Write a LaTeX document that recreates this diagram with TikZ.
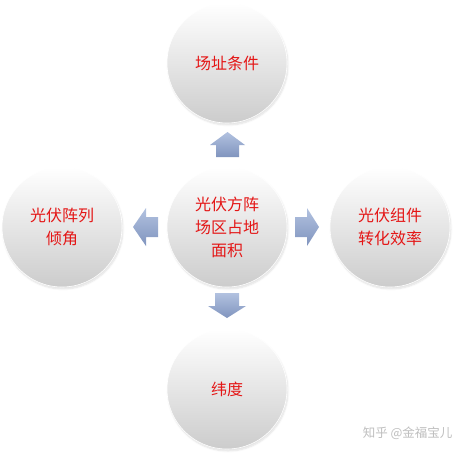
\documentclass[tikz,border=0pt]{standalone}
\usepackage{fontspec}
\newfontfamily\cjk{Noto Sans CJK SC}
\usetikzlibrary{shadows.blur}
\definecolor{txtred}{RGB}{228,22,22}
\definecolor{ballbot}{RGB}{204,204,204}
\definecolor{ballmid}{RGB}{240,240,240}
\definecolor{arrtop}{RGB}{178,194,224}
\definecolor{arrbot}{RGB}{128,148,190}
\definecolor{wmgray}{RGB}{190,190,190}
\tikzset{
  ball/.style={circle, minimum size=120pt, inner sep=0pt,
    top color=white, middle color=ballmid, bottom color=ballbot,
    draw=white, line width=0.6pt,
    blur shadow={shadow xshift=1pt, shadow yshift=-2pt, shadow opacity=12, shadow blur steps=6},
    font=\cjk\fontsize{16}{23}\selectfont, text=txtred, align=center},
  blockarr/.style={top color=arrtop, bottom color=arrbot, draw=none}
}
\begin{document}
\begin{tikzpicture}[x=1pt,y=-1pt]
\useasboundingbox (0,0) rectangle (465,453);
\node[ball] (top) at (227,63) {场址条件};
\node[ball] (left) at (62,227) {光伏阵列\\倾角};
\node[ball] (center) at (227,227) {光伏方阵\\场区占地\\面积};
\node[ball] (right) at (390,227) {光伏组件\\转化效率};
\node[ball] (bottom) at (227,389) {纬度};
% block arrows
\path[blockarr] (227.5,132) -- (245,145) -- (239,145) -- (239,157) -- (216,157) -- (216,145) -- (210,145) -- cycle;
\path[blockarr] (215,293) -- (239,293) -- (239,306) -- (246,306) -- (227,318) -- (208,306) -- (215,306) -- cycle;
\path[blockarr] (133,227) -- (146,208) -- (146,217) -- (158,217) -- (158,237) -- (146,237) -- (146,246) -- cycle;
\path[blockarr] (295,217) -- (307,217) -- (307,208) -- (319,227) -- (307,246) -- (307,237) -- (295,237) -- cycle;
\node[font=\cjk\fontsize{12.5}{14}\selectfont, text=wmgray, anchor=east] (wm) at (456,433) {知乎 @金福宝儿};
\end{tikzpicture}
\end{document}
